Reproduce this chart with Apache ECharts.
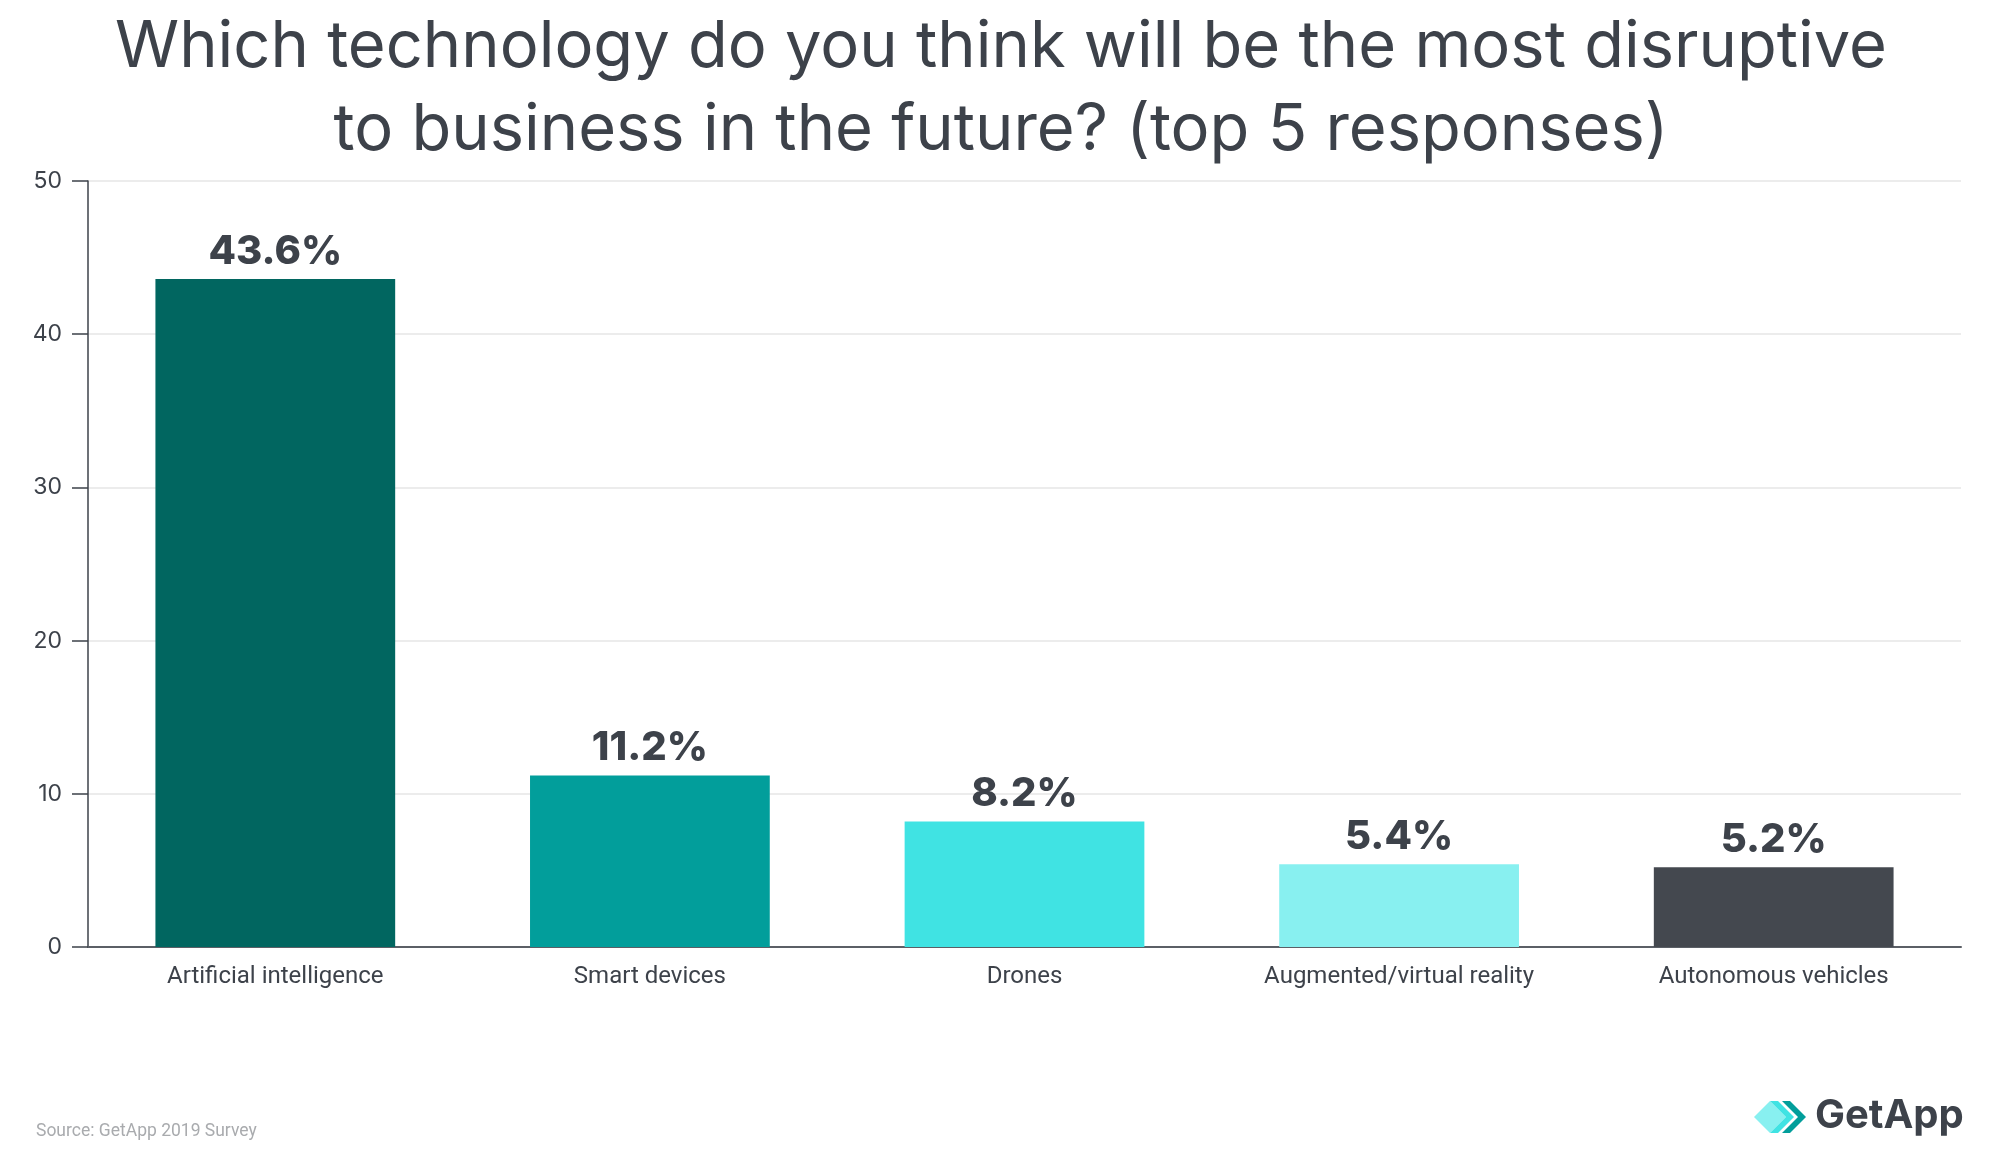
<!DOCTYPE html>
<html>
<head>
<meta charset="utf-8">
<script src="https://cdn.jsdelivr.net/npm/echarts@6/dist/echarts.min.js"></script>
<style>html,body{margin:0;padding:0;background:#fff;}#c{width:1999px;height:1166px;}</style>
</head>
<body>
<div id="c"></div>
<script>
var titleText = "Which technology do you think will be the most disruptive\nto business in the future? (top 5 responses)";
var categories = ["Artificial intelligence", "Smart devices", "Drones", "Augmented/virtual reality", "Autonomous vehicles"];
var values = [43.6, 11.2, 8.2, 5.4, 5.2];
var barColors = ["#016660", "#029e9b", "#40e3e3", "#88f0f0", "#44484f"];
var yTicks = [0, 10, 20, 30, 40, 50];
var sourceText = "Source: GetApp 2019 Survey";
var brandText = "GetApp";

var chart = echarts.init(document.getElementById('c'));
var textColor = "#3d424a";
chart.setOption({
  backgroundColor: "#ffffff",
  animation: false,
  title: {
    text: titleText,
    left: 996,
    top: 1,
    textAlign: "center",
    textStyle: { fontFamily: "Inter", fontWeight: 400, fontSize: 65, lineHeight: 83, color: textColor }
  },
  grid: { left: 88, right: 38, top: 181, bottom: 219, containLabel: false },
  xAxis: {
    type: "category",
    data: categories,
    axisLine: { lineStyle: { color: "#5b5f66", width: 2 } },
    axisTick: { alignWithLabel: true, length: 16, lineStyle: { color: "#5b5f66", width: 1.5 } },
    axisLabel: { margin: 18, fontFamily: "Roboto", fontSize: 24, color: textColor }
  },
  yAxis: {
    type: "value",
    min: yTicks[0],
    max: yTicks[yTicks.length - 1],
    interval: 10,
    axisLine: { show: true, lineStyle: { color: textColor, width: 1.5 } },
    axisTick: { show: true, length: 16, lineStyle: { color: textColor, width: 1.5 } },
    axisLabel: { margin: 26, fontFamily: "Inter", fontSize: 23, color: textColor },
    splitLine: { lineStyle: { color: "#e6e6e6", width: 1.5 } }
  },
  series: [{
    type: "bar",
    data: values.map(function (v, i) { return { value: v, itemStyle: { color: barColors[i] } }; }),
    barCategoryGap: "36%",
    label: {
      show: true,
      position: "top",
      distance: 7,
      formatter: function (p) { return p.value.toFixed(1) + "%"; },
      fontFamily: "Inter",
      fontWeight: 800,
      fontSize: 40,
      color: textColor
    }
  }],
  graphic: [
    { type: "text", left: 36, top: 1123, style: { text: sourceText, fontFamily: "Roboto", fontSize: 17.5, fill: "#a9abae" } },
    { type: "text", left: 1815, top: 1096, style: { text: brandText, fontFamily: "Inter", fontWeight: 700, fontSize: 40, fill: "#3d424a" } },
    { type: "polygon", shape: { points: [[1754,1117],[1770,1101],[1786,1117],[1770,1133]] }, style: { fill: "#88f0f0" } },
    { type: "polygon", shape: { points: [[1770,1101],[1778,1101],[1794,1117],[1778,1133],[1770,1133],[1786,1117]] }, style: { fill: "#40e3e3" } },
    { type: "polygon", shape: { points: [[1782,1101],[1790,1101],[1806,1117],[1790,1133],[1782,1133],[1798,1117]] }, style: { fill: "#029e9b" } }
  ]
});
</script>
</body>
</html>
